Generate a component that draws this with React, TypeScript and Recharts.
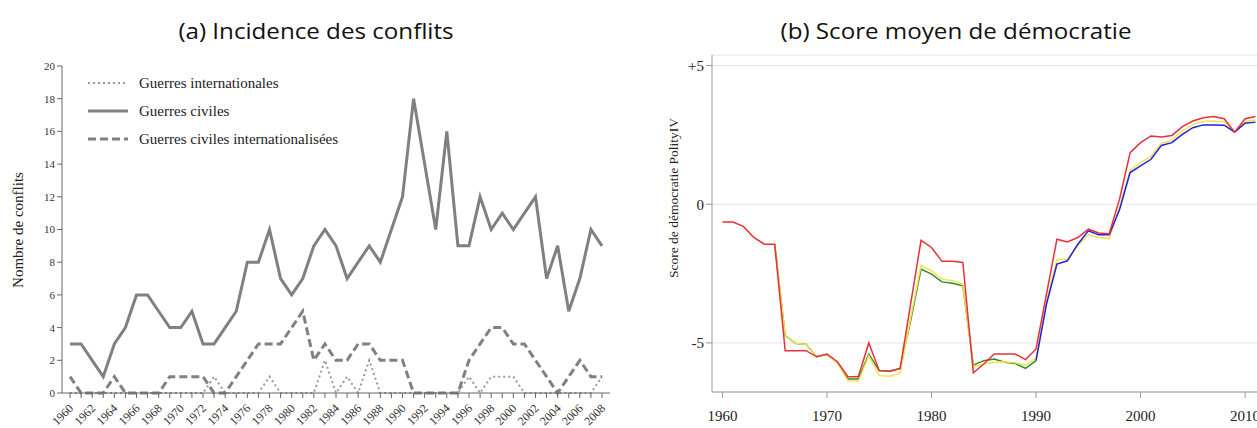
import React from "react";
import { LineChart, Line, XAxis, YAxis, CartesianGrid } from "recharts";

// (a) conflict counts per year, 1960-2008
const conflictYears = Array.from({ length: 49 }, (_, i) => 1960 + i);
const civilWars = [
  3, 3, 2, 1, 3, 4, 6, 6, 5, 4, 4, 5, 3, 3, 4, 5, 8, 8, 10, 7, 6, 7, 9, 10, 9,
  7, 8, 9, 8, 10, 12, 18, 14, 10, 16, 9, 9, 12, 10, 11, 10, 11, 12, 7, 9, 5, 7,
  10, 9,
];
const intlCivilWars = [
  1, 0, 0, 0, 1, 0, 0, 0, 0, 1, 1, 1, 1, 0, 0, 1, 2, 3, 3, 3, 4, 5, 2, 3, 2, 2,
  3, 3, 2, 2, 2, 0, 0, 0, 0, 0, 2, 3, 4, 4, 3, 3, 2, 1, 0, 1, 2, 1, 1,
];
const intlWars = [
  0, 0, 0, 0, 0, 0, 0, 0, 0, 0, 0, 0, 0, 1, 0, 0, 0, 0, 1, 0, 0, 0, 0, 2, 0, 1,
  0, 2, 0, 0, 0, 0, 0, 0, 0, 0, 1, 0, 1, 1, 1, 0, 0, 0, 0, 0, 0, 0, 1,
];
const conflictTicks = [0, 2, 4, 6, 8, 10, 12, 14, 16, 18, 20];

// (b) mean Polity IV score, 1960-2011
const polityYears = Array.from({ length: 52 }, (_, i) => 1960 + i);
const redScore = [
  -0.64, -0.64, -0.8, -1.2, -1.44, -1.44, -5.28, -5.28, -5.28, -5.5, -5.4,
  -5.68, -6.22, -6.22, -5.0, -6.0, -6.02, -5.92, -3.6, -1.3, -1.56, -2.06,
  -2.06, -2.1, -6.08, -5.76, -5.4, -5.4, -5.4, -5.6, -5.22, -3.24, -1.26,
  -1.36, -1.2, -0.9, -1.04, -1.06, 0.2, 1.86, 2.22, 2.46, 2.42, 2.48, 2.8, 3.0,
  3.12, 3.16, 3.08, 2.6, 3.08, 3.16,
];
// yellow and green start in 1965, blue in 1990, green stops in 1990
const yellowScore = [
  -1.44, -4.74, -5.02, -5.05, -5.5, -5.42, -5.72, -6.36, -6.38, -5.46, -6.18,
  -6.2, -6.08, -4.1, -2.2, -2.4, -2.7, -2.76, -2.88, -5.88, -5.76, -5.7, -5.68,
  -5.72, -5.8, -5.55, -3.5, -2.0, -1.98, -1.5, -1.1, -1.2, -1.24, -0.1, 1.22,
  1.5, 1.72, 2.2, 2.3, 2.64, 2.88, 2.98, 3.0, 2.96, 2.6, 2.98, 3.04,
];
const greenScore = [
  -1.44, -4.74, -5.02, -5.05, -5.5, -5.42, -5.7, -6.3, -6.3, -5.4, -6.0,
  -6.02, -5.92, -4.2, -2.34, -2.52, -2.8, -2.85, -2.94, -5.8, -5.64, -5.58,
  -5.7, -5.74, -5.92, -5.64,
];
const blueScore = [
  -5.64, -3.6, -2.16, -2.04, -1.44, -0.96, -1.1, -1.1, -0.18, 1.14, 1.38,
  1.62, 2.12, 2.22, 2.52, 2.76, 2.86, 2.86, 2.85, 2.6, 2.92, 2.96,
];
const polityTicksY = [-5, 0, 5];
const polityTicksX = [1960, 1970, 1980, 1990, 2000, 2010];

const conflictData = conflictYears.map((year, i) => ({
  year,
  intl: intlWars[i],
  civil: civilWars[i],
  intlCivil: intlCivilWars[i],
}));

const polityData = polityYears.map((year, i) => ({
  year,
  red: redScore[i],
  yellow: year >= 1965 ? yellowScore[year - 1965] : null,
  green: year >= 1965 && year <= 1990 ? greenScore[year - 1965] : null,
  blue: year >= 1990 ? blueScore[year - 1990] : null,
}));

const SERIF = "'Liberation Serif', 'Times New Roman', serif";
const SANS = "'Open Sans', 'Noto Sans', sans-serif";
const GREY = "#808080";

const legendItems = [
  { label: "Guerres internationales", dash: "2 3", width: 2, color: "#999" },
  { label: "Guerres civiles", dash: undefined, width: 3, color: GREY },
  { label: "Guerres civiles internationalisées", dash: "8 4", width: 3, color: GREY },
];

// legend drawn over the plot, top-left corner like the original
function ConflictLegend() {
  return (
    <svg width={320} height={80}>
      {legendItems.map((item, i) => (
        <g key={item.label}>
          <line
            x1={0}
            x2={40}
            y1={10 + i * 28}
            y2={10 + i * 28}
            stroke={item.color}
            strokeWidth={item.width}
            strokeDasharray={item.dash}
          />
          <text x={51} y={15 + i * 28} fontFamily={SERIF} fontSize={15} fill="#222">
            {item.label}
          </text>
        </g>
      ))}
    </svg>
  );
}

function YearTick(props: any) {
  const { x, y, payload } = props;
  if (payload.value % 2 !== 0) return null;
  const tx = x + 4;
  const ty = y + 9;
  return (
    <text
      x={tx}
      y={ty}
      textAnchor="end"
      fontFamily={SERIF}
      fontSize={12}
      fill="#333"
      transform={`rotate(-45, ${tx}, ${ty})`}
    >
      {payload.value}
    </text>
  );
}

function ConflictChart() {
  return (
    <LineChart
      width={620}
      height={428}
      data={conflictData}
      margin={{ top: 66, right: 10, bottom: 0, left: 0 }}
    >
      <XAxis
        dataKey="year"
        type="number"
        domain={[1960, 2008]}
        ticks={conflictYears}
        interval={0}
        padding={{ left: 8, right: 8 }}
        height={35}
        stroke="#666"
        tickSize={5}
        tick={<YearTick />}
      />
      <YAxis
        domain={[0, 20]}
        ticks={conflictTicks}
        width={62}
        stroke="#666"
        tickSize={5}
        tick={{ fontFamily: SERIF, fontSize: 11, fill: "#333" }}
      />
      <Line
        dataKey="intl"
        stroke="#999"
        strokeWidth={2}
        strokeDasharray="2 3"
        dot={false}
        isAnimationActive={false}
      />
      <Line
        dataKey="intlCivil"
        stroke={GREY}
        strokeWidth={3}
        strokeDasharray="8 4"
        dot={false}
        isAnimationActive={false}
      />
      <Line
        dataKey="civil"
        stroke={GREY}
        strokeWidth={3}
        dot={false}
        isAnimationActive={false}
      />
    </LineChart>
  );
}

function PolityChart() {
  return (
    <LineChart
      width={626}
      height={428}
      data={polityData}
      margin={{ top: 55, right: 0, bottom: 0, left: 0 }}
    >
      <CartesianGrid vertical={false} stroke="#e6e6e6" />
      <XAxis
        dataKey="year"
        type="number"
        domain={[1959, 2012]}
        allowDataOverflow
        ticks={polityTicksX}
        height={36}
        stroke="#999"
        tickSize={6}
        tickMargin={12}
        tick={{ fontFamily: SERIF, fontSize: 15, fill: "#222" }}
      />
      <YAxis
        domain={[-6.77, 5.38]}
        allowDataOverflow
        ticks={polityTicksY}
        width={72}
        stroke="#999"
        tickSize={6}
        tickFormatter={(v: number) => (v > 0 ? `+${v}` : `${v}`)}
        tick={{ fontFamily: SERIF, fontSize: 15, fill: "#222" }}
      />
      <Line dataKey="green" stroke="#2e8b2e" strokeWidth={1.5} dot={false} isAnimationActive={false} />
      <Line dataKey="yellow" stroke="#f2e24e" strokeWidth={1.5} dot={false} isAnimationActive={false} />
      <Line dataKey="blue" stroke="#2020e0" strokeWidth={1.5} dot={false} isAnimationActive={false} />
      <Line dataKey="red" stroke="#e8303a" strokeWidth={1.5} dot={false} isAnimationActive={false} />
    </LineChart>
  );
}

const titleStyle: React.CSSProperties = {
  position: "absolute",
  top: 17,
  textAlign: "center",
  fontFamily: SANS,
  fontSize: 21,
  color: "#111",
  transform: "scaleX(1.15)",
};

export default function App() {
  return (
    <div
      style={{
        position: "absolute",
        left: 0,
        top: 0,
        width: 1257,
        height: 428,
        overflow: "hidden",
        background: "#fff",
      }}
    >
      <div style={{ ...titleStyle, left: 16, width: 600 }}>(a) Incidence des conflits</div>
      <div style={{ ...titleStyle, left: 656, width: 600 }}>(b) Score moyen de démocratie</div>

      <div style={{ position: "absolute", left: 0, top: 0 }}>
        <ConflictChart />
      </div>
      <div style={{ position: "absolute", left: 88, top: 73 }}>
        <ConflictLegend />
      </div>
      <div
        style={{
          position: "absolute",
          left: 18,
          top: 230,
          transform: "translate(-50%, -50%) rotate(-90deg)",
          whiteSpace: "nowrap",
          fontFamily: SERIF,
          fontSize: 15,
          color: "#222",
        }}
      >
        Nombre de conflits
      </div>

      <div style={{ position: "absolute", left: 640, top: 0 }}>
        <PolityChart />
      </div>
      <div
        style={{
          position: "absolute",
          left: 674,
          top: 198,
          transform: "translate(-50%, -50%) rotate(-90deg)",
          whiteSpace: "nowrap",
          fontFamily: SERIF,
          fontSize: 13.5,
          color: "#222",
        }}
      >
        Score de démocratie PolityIV
      </div>
    </div>
  );
}
